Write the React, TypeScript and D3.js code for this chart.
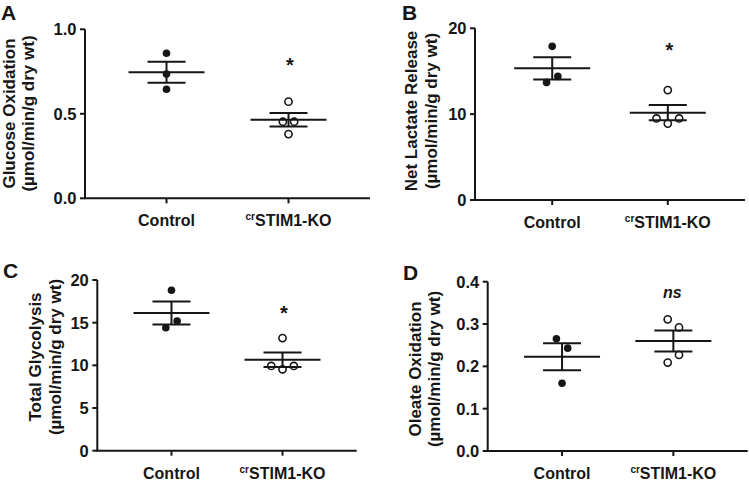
import React from "react";
import * as d3 from "d3";

const categories = ["Control", "STIM1-KO"];
const koPrefix = "cr";

const glucoseControl = [0.858, 0.735, 0.645];
const glucoseKO = [0.572, 0.453, 0.453, 0.38];
const lactateControl = [17.9, 13.7, 14.4];
const lactateKO = [12.8, 9.5, 8.9, 9.5];
const glycolysisControl = [18.8, 14.4, 15.2];
const glycolysisKO = [13.2, 9.93, 9.54, 9.93];
const oleateControl = [0.265, 0.243, 0.16];
const oleateKO = [0.311, 0.292, 0.209, 0.227];

const glucoseTicks = [0, 0.5, 1.0];
const lactateTicks = [0, 10, 20];
const glycolysisTicks = [0, 5, 10, 15, 20];
const oleateTicks = [0, 0.1, 0.2, 0.3, 0.4];

const panelLetters = ["A", "B", "C", "D"];
const titles1 = ["Glucose Oxidation", "Net Lactate Release", "Total Glycolysis", "Oleate Oxidation"];
const unitLabel = "(µmol/min/g dry wt)";
const sigLabels = ["*", "*", "*", "ns"];
const sigValues = [0.808, 17.87, 16.5, 0.3725];

const panels = [
  { letter: panelLetters[0], title: titles1[0], ctrl: glucoseControl, ko: glucoseKO, ticks: glucoseTicks, fmt: ".1f", sig: sigLabels[0], sigV: sigValues[0],
    L: { x0: 85, x1: 370, yTop: 29.3, yBot: 198.3, lx: 1, ly: 20, t1: 9.5, t2: 28, ty: 113.5 } },
  { letter: panelLetters[1], title: titles1[1], ctrl: lactateControl, ko: lactateKO, ticks: lactateTicks, fmt: "d", sig: sigLabels[1], sigV: sigValues[1],
    L: { x0: 475, x1: 745, yTop: 28.3, yBot: 200, lx: 402, ly: 20, t1: 411.5, t2: 431, ty: 111 } },
  { letter: panelLetters[2], title: titles1[2], ctrl: glycolysisControl, ko: glycolysisKO, ticks: glycolysisTicks, fmt: "d", sig: sigLabels[2], sigV: sigValues[2],
    L: { x0: 97.3, x1: 356.7, yTop: 280, yBot: 450.7, lx: 3, ly: 278, t1: 35.5, t2: 55, ty: 357 } },
  { letter: panelLetters[3], title: titles1[3], ctrl: oleateControl, ko: oleateKO, ticks: oleateTicks, fmt: ".1f", sig: sigLabels[3], sigV: sigValues[3],
    L: { x0: 487.7, x1: 747.7, yTop: 281.7, yBot: 451, lx: 403, ly: 280, t1: 415, t2: 434, ty: 369 } },
];

const FONT = "'Liberation Sans', Arial, Helvetica, sans-serif";
const INK = "#161616";

function swarmOffsets(values: number[], y: (v: number) => number, spacing = 11.3, thresh = 10) {
  const order = values.map((_, i) => i).sort((a, b) => y(values[a]) - y(values[b]));
  const groups: number[][] = [];
  let prevY = -Infinity;
  order.forEach((i) => {
    const py = y(values[i]);
    if (groups.length && py - prevY < thresh) groups[groups.length - 1].push(i);
    else groups.push([i]);
    prevY = py;
  });
  const off = new Array(values.length).fill(0);
  groups.forEach((g) => {
    const s = [...g].sort((a, b) => a - b);
    s.forEach((i, k) => {
      off[i] = (k - (s.length - 1) / 2) * spacing;
    });
  });
  return off;
}

function Panel({ p }: { p: (typeof panels)[number] }) {
  const { L } = p;
  const yMax = p.ticks[p.ticks.length - 1];
  const y = d3.scaleLinear().domain([0, yMax]).range([L.yBot, L.yTop]);
  const x = d3.scalePoint<string>().domain(categories).range([L.x0, L.x1]).padding(0.668);
  const fmt = d3.format(p.fmt);
  const groups = [
    { cat: categories[0], vals: p.ctrl, filled: true },
    { cat: categories[1], vals: p.ko, filled: false },
  ];
  const rot = (cx: number, cy: number) => `rotate(-90 ${cx} ${cy})`;
  return (
    <g>
      <text x={L.lx} y={L.ly} fontSize={21} fontWeight="bold" fontFamily={FONT} fill={INK}>{p.letter}</text>
      <text x={L.t1} y={L.ty} transform={rot(L.t1, L.ty)} textAnchor="middle" dominantBaseline="central"
        fontSize={17} fontWeight="bold" fontFamily={FONT} fill={INK}>{p.title}</text>
      <text x={L.t2} y={L.ty} transform={rot(L.t2, L.ty)} textAnchor="middle" dominantBaseline="central"
        fontSize={17} fontWeight="bold" fontFamily={FONT} fill={INK}>{unitLabel}</text>
      {/* y axis */}
      <line x1={L.x0} x2={L.x0} y1={y(yMax)} y2={L.yBot} stroke={INK} strokeWidth={2} />
      {p.ticks.map((t) => (
        <g key={t}>
          <line x1={L.x0 - 5} x2={L.x0} y1={y(t)} y2={y(t)} stroke={INK} strokeWidth={2} />
          <text x={L.x0 - 8.5} y={y(t)} dy="0.36em" textAnchor="end" fontSize={16.5} fontWeight="bold" fontFamily={FONT} fill={INK}>{fmt(t)}</text>
        </g>
      ))}
      {/* x axis */}
      <line x1={L.x0 - 1} x2={L.x1} y1={L.yBot} y2={L.yBot} stroke={INK} strokeWidth={2} />
      {categories.map((c, i) => (
        <g key={c}>
          <line x1={x(c)!} x2={x(c)!} y1={L.yBot} y2={L.yBot + 5} stroke={INK} strokeWidth={2} />
          <text x={x(c)!} y={L.yBot + 28} textAnchor="middle" fontSize={16} fontWeight="bold" fontFamily={FONT} fill={INK}>
            {i === 1 ? (
              <>
                <tspan fontSize={10} dy={-6}>{koPrefix}</tspan>
                <tspan dy={6}>{c}</tspan>
              </>
            ) : c}
          </text>
        </g>
      ))}
      {groups.map((g) => {
        const cx = x(g.cat)!;
        const offs = swarmOffsets(g.vals, y);
        const m = d3.mean(g.vals)!;
        const sem = d3.deviation(g.vals)! / Math.sqrt(g.vals.length);
        return (
          <g key={g.cat}>
            {g.vals.map((v, i) => (
              <circle key={i} cx={cx + offs[i]} cy={y(v)} r={g.filled ? 3.8 : 3.6}
                fill={g.filled ? INK : "none"} stroke={INK} strokeWidth={g.filled ? 0 : 1.6} />
            ))}
            <line x1={cx - 38} x2={cx + 38} y1={y(m)} y2={y(m)} stroke={INK} strokeWidth={2} />
            <line x1={cx} x2={cx} y1={y(m - sem)} y2={y(m + sem)} stroke={INK} strokeWidth={2} />
            <line x1={cx - 19} x2={cx + 19} y1={y(m + sem)} y2={y(m + sem)} stroke={INK} strokeWidth={2} />
            <line x1={cx - 19} x2={cx + 19} y1={y(m - sem)} y2={y(m - sem)} stroke={INK} strokeWidth={2} />
          </g>
        );
      })}
      <text x={x(categories[1])! + (p.sig === "*" ? 1.5 : -1)} y={y(p.sigV) + (p.sig === "*" ? 10.5 : 5)} textAnchor="middle"
        fontSize={p.sig === "*" ? 20 : 16} fontWeight="bold" fontStyle={p.sig === "*" ? "normal" : "italic"}
        fontFamily={FONT} fill={INK}>{p.sig}</text>
    </g>
  );
}

export default function App() {
  return (
    <svg width={749} height={481} style={{ position: "absolute", left: 0, top: 0, background: "#fff" }}>
      <rect width={749} height={481} fill="#fff" />
      {panels.map((p) => (
        <Panel key={p.letter} p={p} />
      ))}
    </svg>
  );
}
